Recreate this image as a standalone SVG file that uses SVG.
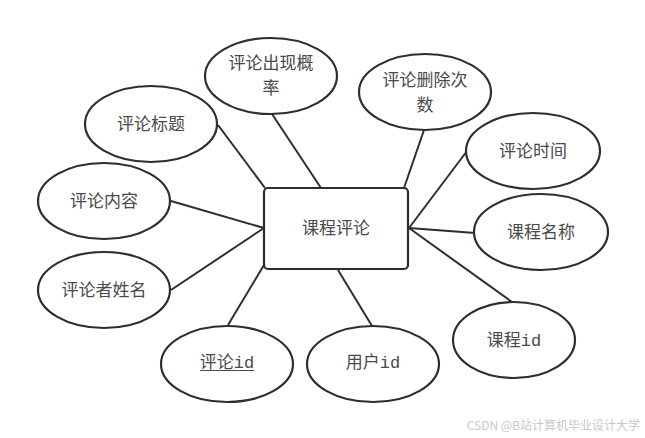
<svg xmlns="http://www.w3.org/2000/svg" width="645" height="438" viewBox="0 0 645 438">
<style>
.n ellipse, .n rect { fill: #ffffff; stroke: #2b2f33; stroke-width: 2.2; }
.n text { font-family: "Noto Sans CJK SC", "Liberation Sans", sans-serif; font-size: 17px; fill: #4a4a4a; text-anchor: middle; }
.n text .m { font-family: "Liberation Mono", "Noto Sans CJK SC", monospace; }
#connectors line { stroke: #2b2f33; stroke-width: 2; }
.wm { font-family: "Noto Sans CJK SC", "Liberation Sans", sans-serif; font-size: 12px; fill: #c8c8c8; text-anchor: end; }
</style>
<rect width="645" height="438" fill="#ffffff"/>
<g id="connectors">
<line x1="218" y1="125" x2="265" y2="188"/>
<line x1="272" y1="114" x2="321" y2="188"/>
<line x1="424" y1="130" x2="404" y2="188"/>
<line x1="467" y1="151" x2="409" y2="228"/>
<line x1="475" y1="233" x2="409" y2="228"/>
<line x1="512" y1="302" x2="409" y2="228"/>
<line x1="171" y1="201" x2="264" y2="228"/>
<line x1="171" y1="290" x2="264" y2="228"/>
<line x1="228" y1="325" x2="264" y2="265"/>
<line x1="372" y1="326" x2="338" y2="270"/>
</g>
<g id="main" class="n">
<rect x="264" y="188" width="144" height="81" rx="4"/>
<text x="336" y="234">课程评论</text>
</g>
<g id="n_chuxian" class="n">
<ellipse cx="271" cy="76" rx="66" ry="38"/>
<text x="271" y="69">评论出现概</text>
<text x="271" y="94">率</text>
</g>
<g id="n_shanchu" class="n">
<ellipse cx="425" cy="92" rx="66" ry="38"/>
<text x="425" y="86">评论删除次</text>
<text x="425" y="111">数</text>
</g>
<g id="n_biaoti" class="n">
<ellipse cx="151" cy="124" rx="66" ry="38"/>
<text x="151" y="130">评论标题</text>
</g>
<g id="n_shijian" class="n">
<ellipse cx="533" cy="151" rx="67" ry="38"/>
<text x="533" y="157">评论时间</text>
</g>
<g id="n_neirong" class="n">
<ellipse cx="104" cy="201" rx="66" ry="38"/>
<text x="104" y="207">评论内容</text>
</g>
<g id="n_mingcheng" class="n">
<ellipse cx="541" cy="232" rx="67" ry="38"/>
<text x="541" y="238">课程名称</text>
</g>
<g id="n_xingming" class="n">
<ellipse cx="104" cy="290" rx="66" ry="38"/>
<text x="104" y="296">评论者姓名</text>
</g>
<g id="n_kechengid" class="n">
<ellipse cx="514" cy="340" rx="61" ry="38"/>
<text x="514" y="346">课程<tspan class="m">id</tspan></text>
</g>
<g id="n_pinglunid" class="n">
<ellipse cx="227" cy="364" rx="66" ry="38"/>
<text x="227" y="368">评论<tspan class="m">id</tspan></text>
<line x1="200" y1="370.5" x2="254" y2="370.5" stroke="#4a4a4a" stroke-width="1.2"/>
</g>
<g id="n_yonghuid" class="n">
<ellipse cx="373" cy="364" rx="66" ry="38"/>
<text x="373" y="368">用户<tspan class="m">id</tspan></text>
</g>
<text class="wm" x="640" y="430">CSDN @B站计算机毕业设计大学</text>
</svg>
